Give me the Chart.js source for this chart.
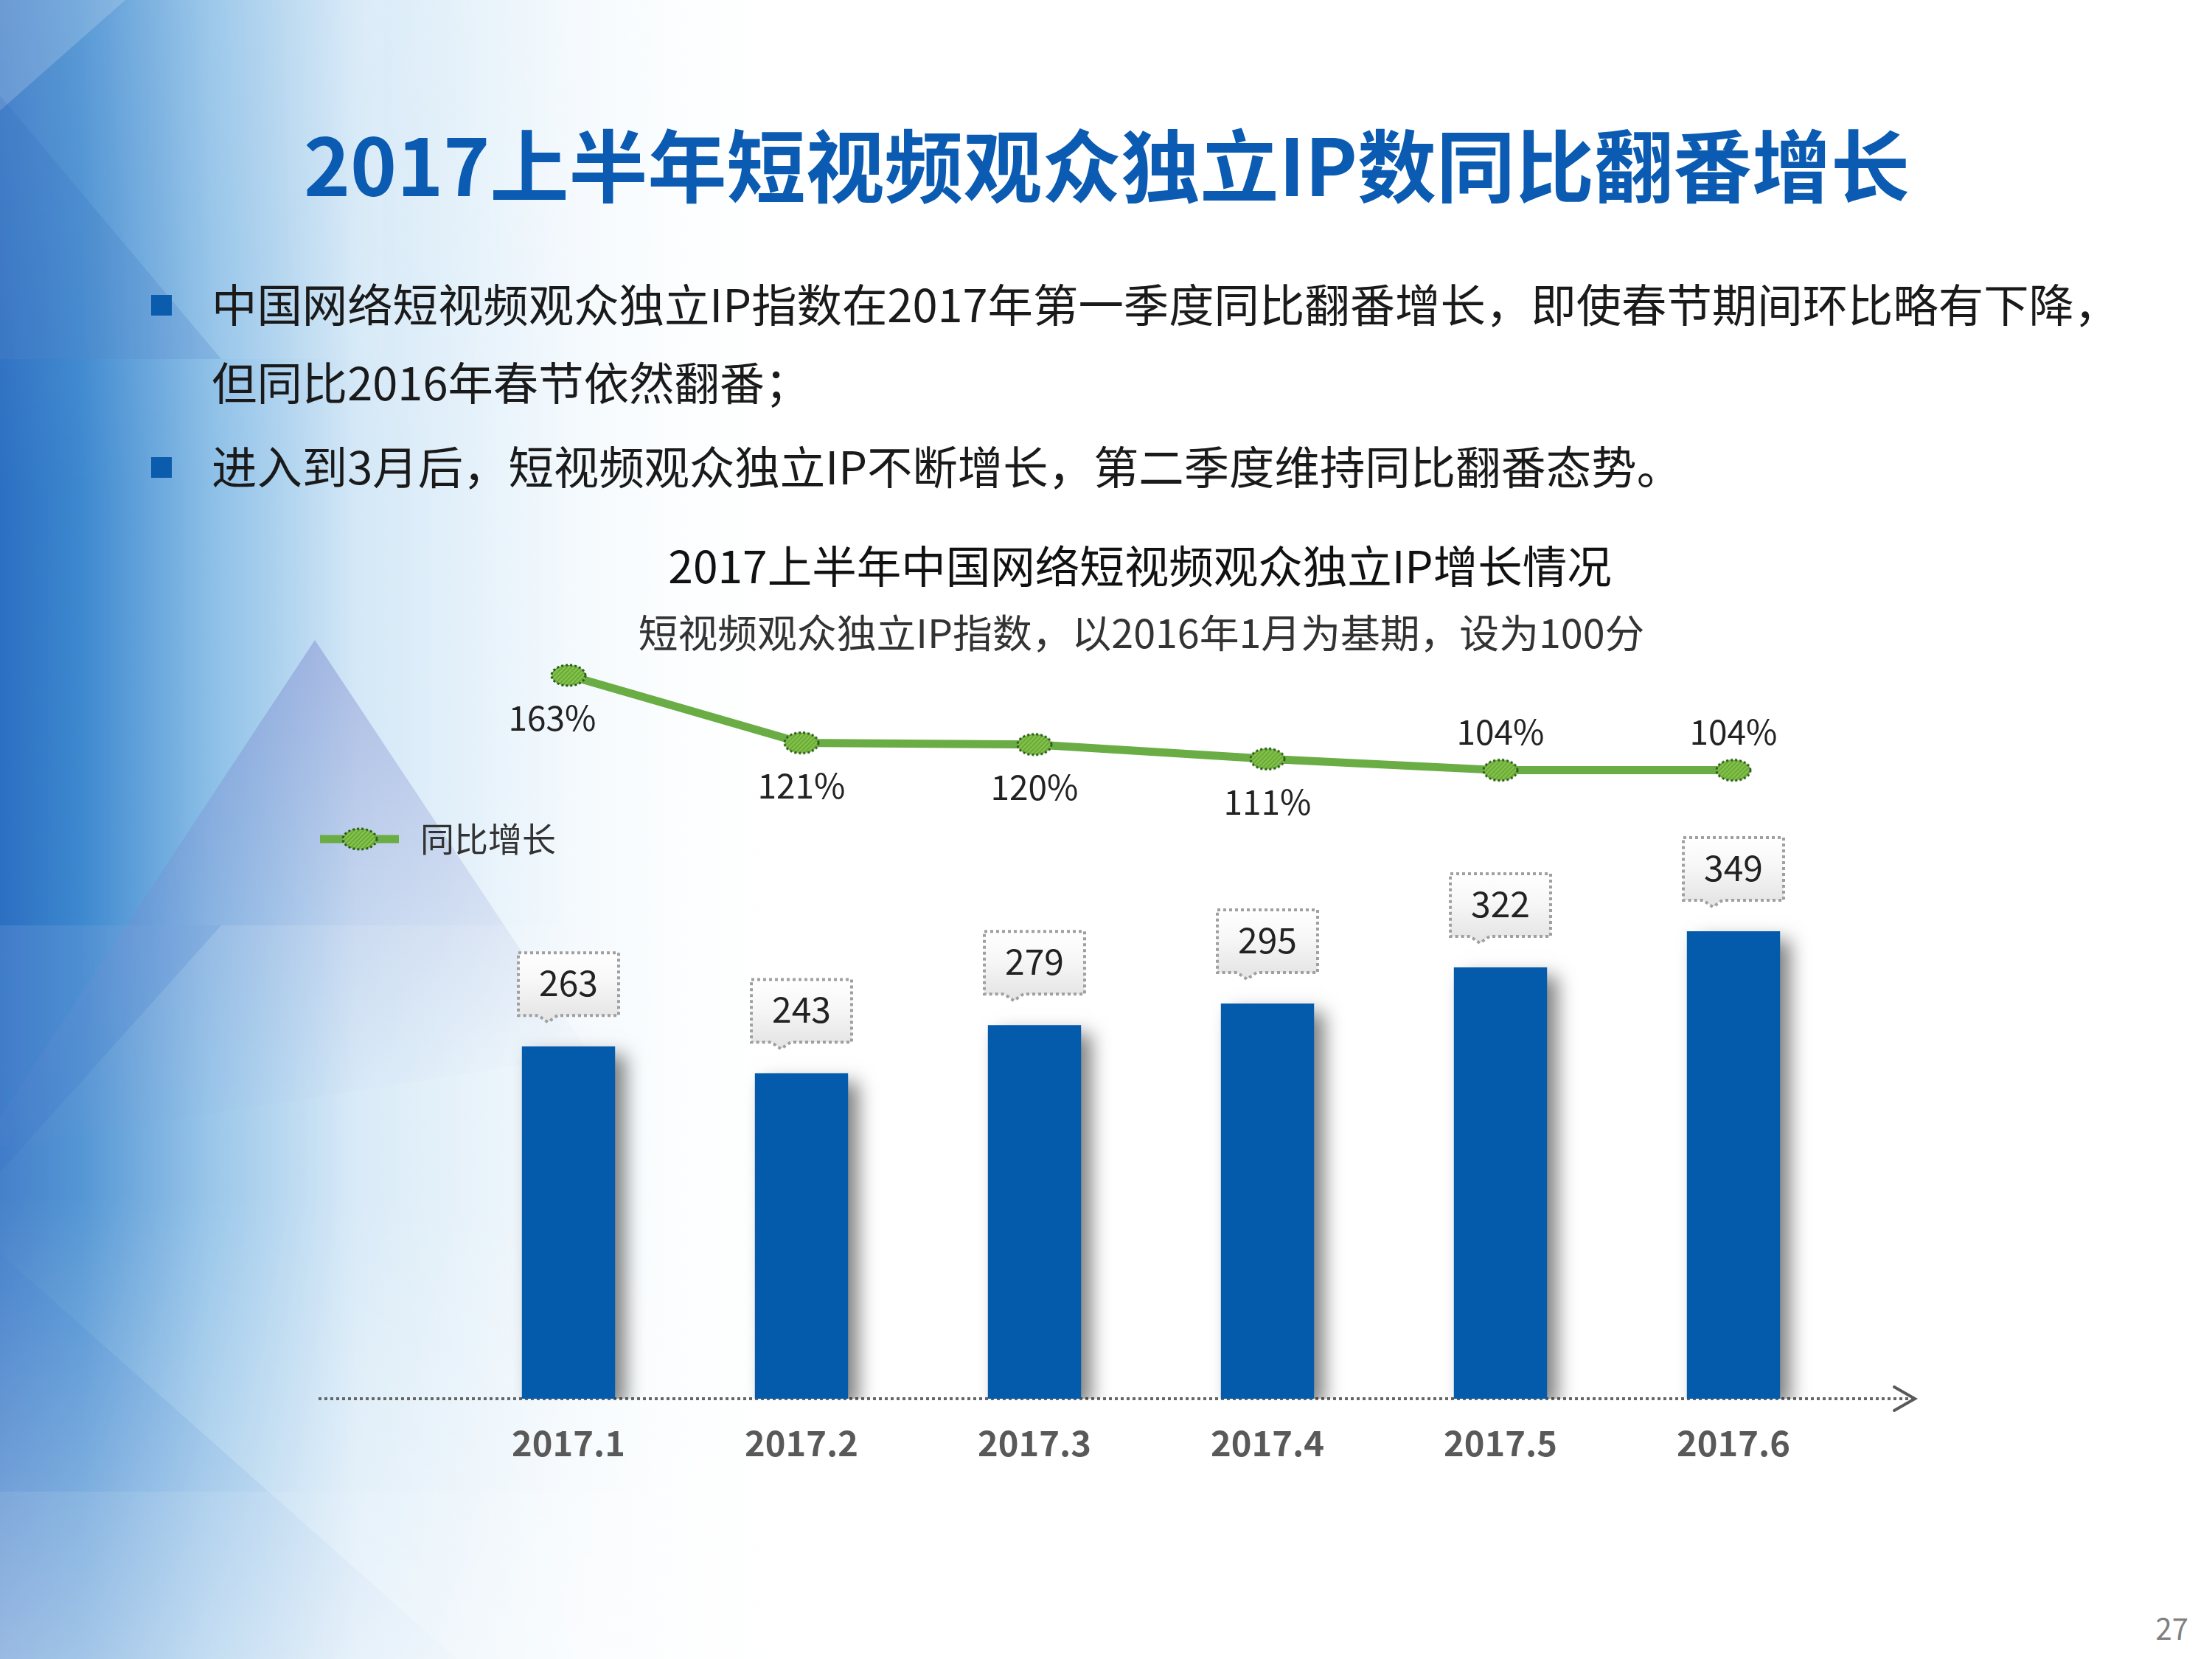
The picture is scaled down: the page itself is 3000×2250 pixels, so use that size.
<!DOCTYPE html>
<html>
<head>
<meta charset="utf-8">
<script src="https://cdn.jsdelivr.net/npm/chart.js@4.4.0/dist/chart.umd.min.js"></script>
<style>
html, body { margin: 0; padding: 0; }
body { width: 3000px; height: 2250px; position: relative; overflow: hidden; background: #fff;
  font-family: "Noto Sans CJK SC", "Noto Sans", sans-serif; }
#bg { position: absolute; left: 0; top: 0; }
#c { position: absolute; left: 0; top: 0; }
.title { position: absolute; left: 0; top: 155px; width: 3002px; text-align: center; font-size: 107px; line-height: 130px;
  font-weight: bold; color: #0a5bb1; white-space: nowrap; }
.bullets { position: absolute; left: 287px; top: 358px; font-size: 61.4px; line-height: 106px; color: #1a1a1a; white-space: nowrap; }
.bullets p { margin: 0 0 8px 0; position: relative; }
.bullets p:before { content: ""; position: absolute; left: -82px; top: 42px; width: 28px; height: 28px; background: #0b5cad; }
.ctitle { position: absolute; left: 546px; width: 2000px; text-align: center; top: 725px; font-size: 60.5px; line-height: 80px; color: #111; white-space: nowrap; }
.csub { position: absolute; left: 548px; width: 2000px; text-align: center; top: 821px; font-size: 53.8px; line-height: 70px; color: #333; white-space: nowrap; }
.pageno { position: absolute; right: 32px; top: 2180px; font-size: 40px; line-height: 54px; color: #808080; }
</style>
</head>
<body>
<svg id="bg" width="3000" height="2250" viewBox="0 0 3000 2250">
  <defs>
    <linearGradient id="gBase" x1="0" y1="0" x2="1100" y2="0" gradientUnits="userSpaceOnUse">
      <stop offset="0" stop-color="#2c6fc2"/>
      <stop offset="0.1" stop-color="#3d88cf"/>
      <stop offset="0.26" stop-color="#8cbfe7"/>
      <stop offset="0.44" stop-color="#d4e8f7"/>
      <stop offset="0.7" stop-color="#f3f9fd"/>
      <stop offset="1" stop-color="#ffffff" stop-opacity="0"/>
    </linearGradient>
    <linearGradient id="gV" x1="0" y1="0" x2="0" y2="2250" gradientUnits="userSpaceOnUse">
      <stop offset="0" stop-color="#ffffff" stop-opacity="0.1"/>
      <stop offset="0.3" stop-color="#ffffff" stop-opacity="0"/>
      <stop offset="0.72" stop-color="#ffffff" stop-opacity="0"/>
      <stop offset="1" stop-color="#ffffff" stop-opacity="0.45"/>
    </linearGradient>
    <linearGradient id="gApex" x1="427" y1="868" x2="560" y2="1500" gradientUnits="userSpaceOnUse">
      <stop offset="0" stop-color="#7b86cc" stop-opacity="0.45"/>
      <stop offset="1" stop-color="#7b86cc" stop-opacity="0"/>
    </linearGradient>
    <linearGradient id="gLow" x1="0" y1="1255" x2="700" y2="2250" gradientUnits="userSpaceOnUse">
      <stop offset="0" stop-color="#3f7fd0" stop-opacity="0.3"/>
      <stop offset="1" stop-color="#3f7fd0" stop-opacity="0"/>
    </linearGradient>
  </defs>
  <rect x="0" y="0" width="1100" height="2250" fill="url(#gBase)"/>
  <rect x="0" y="0" width="1100" height="2250" fill="url(#gV)"/>
  <polygon points="0,0 170,0 0,150" fill="#ffffff" fill-opacity="0.18"/>
  <polygon points="0,130 300,487 0,487" fill="#1f5fb8" fill-opacity="0.18"/>
  <rect x="0" y="0" width="520" height="487" fill="#ffffff" fill-opacity="0.06"/>
  <polygon points="427,868 -30,1560 800,1430" fill="url(#gApex)"/>
  <rect x="0" y="1255" width="950" height="768" fill="#ffffff" fill-opacity="0.12"/>
  <polygon points="0,1590 300,1255 0,1255" fill="#2a6cc6" fill-opacity="0.16"/>
  <polygon points="0,1700 0,2250 620,2250" fill="url(#gLow)"/>
  <rect x="0" y="2023" width="950" height="227" fill="#ffffff" fill-opacity="0.18"/>
</svg>

<div class="title">2017上半年短视频观众独立IP数同比翻番增长</div>
<div class="bullets">
  <p>中国网络短视频观众独立IP指数在2017年第一季度同比翻番增长，即使春节期间环比略有下降，<br>但同比2016年春节依然翻番；</p>
  <p>进入到3月后，短视频观众独立IP不断增长，第二季度维持同比翻番态势。</p>
</div>
<div class="ctitle">2017上半年中国网络短视频观众独立IP增长情况</div>
<div class="csub">短视频观众独立IP指数，以2016年1月为基期，设为100分</div>
<div class="pageno">27</div>

<canvas id="c" width="3000" height="2250"></canvas>

<script>
// data
var months = ['2017.1', '2017.2', '2017.3', '2017.4', '2017.5', '2017.6'];
var ipIndex = [263, 243, 279, 295, 322, 349];
var yoyGrowth = [163, 121, 120, 111, 104, 104];
var yoyLabelSide = ['below', 'below', 'below', 'below', 'above', 'above'];

var FONT = '"Noto Sans CJK SC", "Noto Sans", sans-serif';
Chart.defaults.font.family = FONT;

// dotted green ellipse used as point marker
function makeMarker() {
    var m = document.createElement('canvas');
    m.width = 52; m.height = 34;
    var g = m.getContext('2d');
    g.beginPath();
    g.ellipse(26, 17, 23, 14, 0, 0, Math.PI * 2);
    g.fillStyle = '#86c54a';
    g.fill();
    g.save();
    g.clip();
    g.strokeStyle = '#6aa83a';
    g.lineWidth = 2;
    for (var k = -34; k < 60; k += 6) {
        g.beginPath();
        g.moveTo(k, 34);
        g.lineTo(k + 34, 0);
        g.stroke();
    }
    g.restore();
    g.beginPath();
    g.ellipse(26, 17, 23, 14, 0, 0, Math.PI * 2);
    g.setLineDash([3, 3]);
    g.strokeStyle = '#2b5a1c';
    g.lineWidth = 3;
    g.stroke();
    return m;
}
var marker = makeMarker();

var barShadow = {
    id: 'barShadow',
    beforeDatasetDraw: function(chart, args) {
        if (args.meta.type !== 'bar') return;
        var ctx = chart.ctx;
        ctx.save();
        ctx.shadowColor = 'rgba(0,0,0,0.5)';
        ctx.shadowBlur = 24;
        ctx.shadowOffsetX = 14;
        ctx.shadowOffsetY = 12;
    },
    afterDatasetDraw: function(chart, args) {
        if (args.meta.type !== 'bar') return;
        chart.ctx.restore();
    }
};

var arrowAxis = {
    id: 'arrowAxis',
    beforeDatasetsDraw: function(chart) {
        var ctx = chart.ctx, area = chart.chartArea;
        var y = chart.scales.y.getPixelForValue(0);
        var x0 = area.left - 181, x1 = area.right + 88;
        ctx.save();
        ctx.strokeStyle = '#666';
        ctx.lineWidth = 4;
        ctx.setLineDash([4, 4]);
        ctx.beginPath();
        ctx.moveTo(x0, y);
        ctx.lineTo(x1, y);
        ctx.stroke();
        ctx.setLineDash([]);
        ctx.strokeStyle = '#595959';
        ctx.lineWidth = 4;
        ctx.lineCap = 'round';
        ctx.beginPath();
        ctx.moveTo(x1 - 28, y - 16);
        ctx.lineTo(x1, y);
        ctx.lineTo(x1 - 28, y + 16);
        ctx.stroke();
        ctx.restore();
    }
};

var valueCallouts = {
    id: 'valueCallouts',
    afterDatasetsDraw: function(chart) {
        var ctx = chart.ctx;
        var meta = chart.getDatasetMeta(1);
        meta.data.forEach(function(bar, i) {
            var w = 136, h = 85;
            var bottom = bar.y - 42, top = bottom - h, left = bar.x - w / 2, right = left + w;
            var pl = left + 40;
            ctx.save();
            ctx.beginPath();
            ctx.moveTo(left, top);
            ctx.lineTo(right, top);
            ctx.lineTo(right, bottom);
            ctx.lineTo(pl + 13, bottom);
            ctx.lineTo(pl, bottom + 9);
            ctx.lineTo(pl - 13, bottom);
            ctx.lineTo(left, bottom);
            ctx.closePath();
            var grad = ctx.createLinearGradient(0, top, 0, bottom);
            grad.addColorStop(0, '#ffffff');
            grad.addColorStop(0.45, '#f7f7f7');
            grad.addColorStop(1, '#e6e6e6');
            ctx.fillStyle = grad;
            ctx.fill();
            ctx.setLineDash([4, 4]);
            ctx.strokeStyle = '#a0a0a0';
            ctx.lineWidth = 4;
            ctx.stroke();
            ctx.fillStyle = '#222';
            ctx.font = '48px ' + FONT;
            ctx.textAlign = 'center';
            ctx.textBaseline = 'middle';
            ctx.fillText(String(ipIndex[i]), bar.x, top + h / 2 - 2);
            ctx.restore();
        });
    }
};

var growthLabels = {
    id: 'growthLabels',
    afterDatasetsDraw: function(chart) {
        var ctx = chart.ctx;
        var meta = chart.getDatasetMeta(0);
        ctx.save();
        ctx.fillStyle = '#222';
        ctx.font = '46px ' + FONT;
        ctx.textAlign = 'center';
        ctx.textBaseline = 'middle';
        meta.data.forEach(function(pt, i) {
            var above = yoyLabelSide[i] === 'above';
            var dx = i === 0 ? -22 : 0;
            ctx.fillText(yoyGrowth[i] + '%', pt.x + dx, pt.y + (above ? -52 : 58));
        });
        ctx.restore();
    }
};

var sideLegend = {
    id: 'sideLegend',
    afterDraw: function(chart) {
        var ctx = chart.ctx;
        var ds = chart.data.datasets[0];
        var y = 1138;
        ctx.save();
        ctx.strokeStyle = ds.borderColor;
        ctx.lineWidth = ds.borderWidth;
        ctx.beginPath();
        ctx.moveTo(434, y);
        ctx.lineTo(541, y);
        ctx.stroke();
        ctx.drawImage(marker, 488 - marker.width / 2, y - marker.height / 2);
        ctx.fillStyle = '#333';
        ctx.font = '46px ' + FONT;
        ctx.textBaseline = 'middle';
        ctx.fillText(ds.label, 570, y);
        ctx.restore();
    }
};

var chart = new Chart(document.getElementById('c'), {
    type: 'bar',
    data: {
        labels: months,
        datasets: [
            {
                type: 'line',
                label: '同比增长',
                data: yoyGrowth,
                yAxisID: 'y2',
                borderColor: '#6aad45',
                borderWidth: 11,
                pointStyle: marker,
                pointRadius: 20,
                tension: 0,
                clip: false,
                order: 0
            },
            {
                type: 'bar',
                label: '短视频观众独立IP指数',
                data: ipIndex,
                yAxisID: 'y',
                backgroundColor: '#045aab',
                barPercentage: 0.4,
                categoryPercentage: 1,
                clip: 0,
                order: 1
            }
        ]
    },
    options: {
        responsive: false,
        animation: false,
        layout: { padding: { left: 613, right: 491, top: 807, bottom: 0 } },
        plugins: {
            legend: { display: false },
            tooltip: { enabled: false }
        },
        scales: {
            x: {
                grid: { display: false, drawTicks: false },
                border: { display: false },
                ticks: { color: '#595959', padding: 32, font: { size: 47, weight: 'bold' } },
                afterFit: function(scale) { scale.height = 353; }
            },
            y: { display: false, min: 0, max: 600 },
            y2: { display: false, min: -287, max: 213 }
        }
    },
    plugins: [barShadow, arrowAxis, valueCallouts, growthLabels, sideLegend]
});
</script>
</body>
</html>
